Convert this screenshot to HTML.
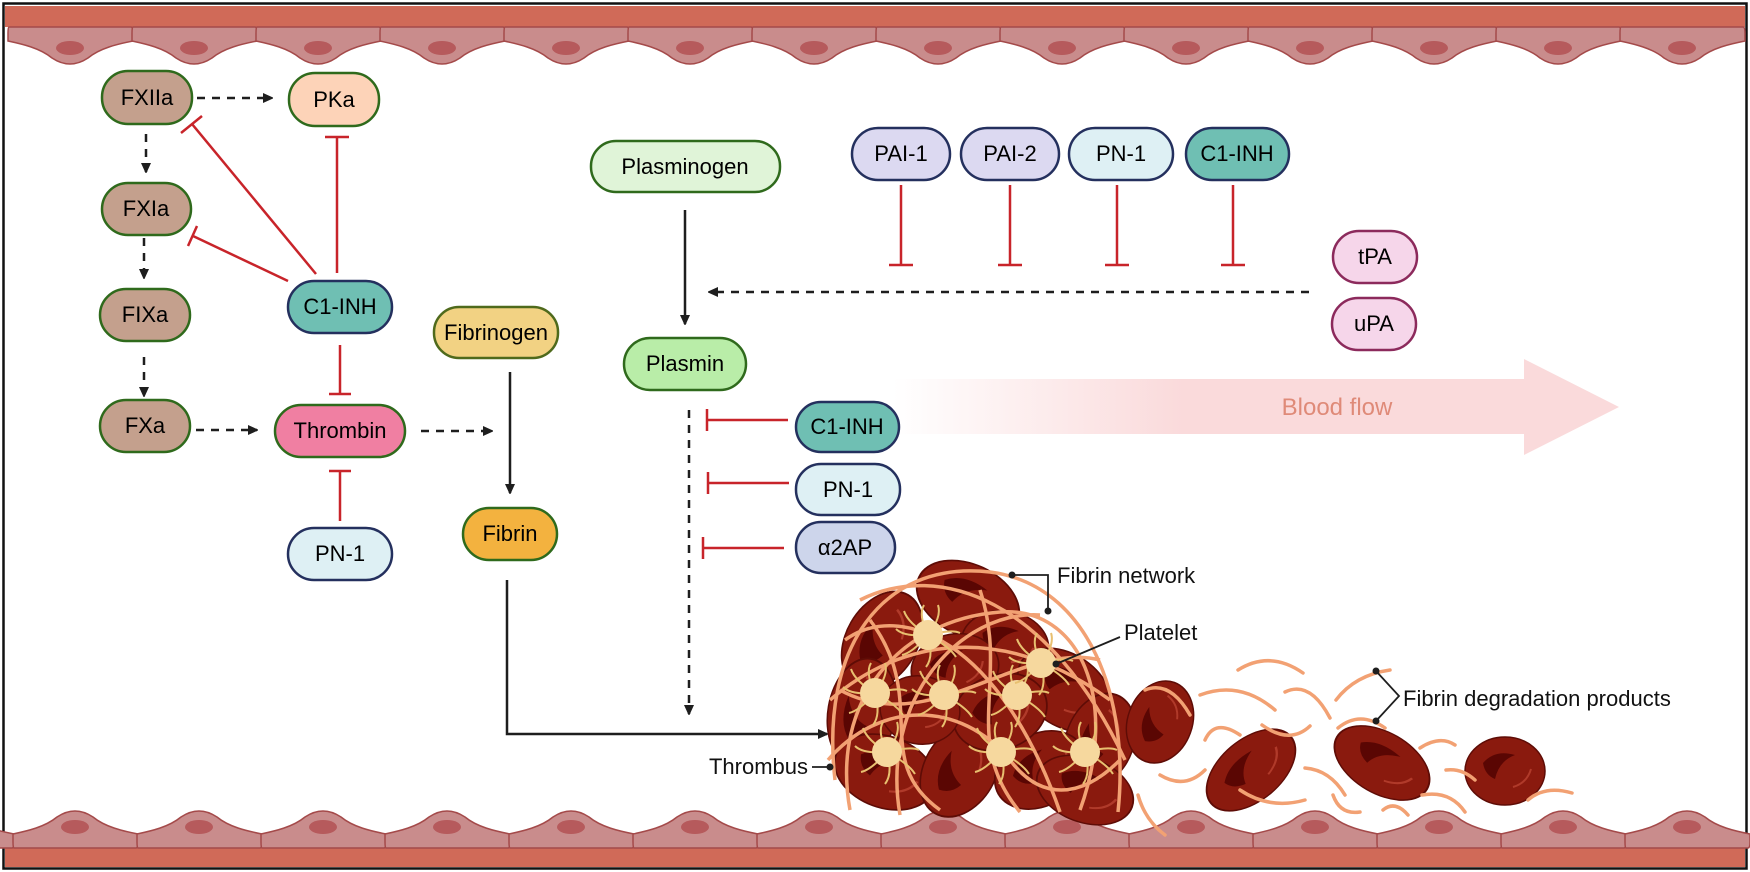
<!DOCTYPE html>
<html><head><meta charset="utf-8"><style>
html,body{margin:0;padding:0;background:#fff}
svg{display:block}
text{font-family:"Liberation Sans",sans-serif}
</style></head><body>
<svg width="1750" height="872" viewBox="0 0 1750 872" xmlns="http://www.w3.org/2000/svg">
<defs>
<linearGradient id="bf" x1="893" y1="0" x2="1618" y2="0" gradientUnits="userSpaceOnUse">
<stop offset="0" stop-color="#fadadb" stop-opacity="0"/>
<stop offset="0.4" stop-color="#fadadb" stop-opacity="1"/>
<stop offset="1" stop-color="#fadadb"/>
</linearGradient>
<g id="cell">
<path d="M1,27 L123,27 Q125,27 125,33 L125,41 C110,44 92,48 80,58 Q62,70 44,58 C32,48 14,44 0,41 L0,33 Q0,27 1,27Z" fill="#c98c8c" stroke="#a44a4a" stroke-width="1.5"/>
<ellipse cx="62" cy="48" rx="14" ry="7" fill="#b65a5c"/>
</g>
<marker id="ah" markerWidth="10" markerHeight="10" refX="9" refY="5" orient="auto" markerUnits="userSpaceOnUse"><path d="M0,0 L11,5 L0,10Z" fill="#1e1e1e"/></marker>
<g id="rbc">
<ellipse cx="0" cy="0" rx="40" ry="34" fill="#8a1a0e" stroke="#5e0c06" stroke-width="1.5"/>
<path d="M-22,-8 Q-10,-22 10,-16 Q-6,-10 -10,8 Q-20,4 -22,-8Z" fill="#5a0603"/>
<path d="M8,16 Q22,12 26,-2" fill="none" stroke="#b03a2a" stroke-width="2"/>
</g>
<g id="plt">
<g stroke="#e8c070" stroke-width="2" fill="none">
<path d="M0,0 Q-10,-20 -4,-30"/><path d="M0,0 Q14,-18 10,-30"/><path d="M0,0 Q24,-6 32,-2"/><path d="M0,0 Q22,12 28,22"/><path d="M0,0 Q6,22 -2,32"/><path d="M0,0 Q-16,18 -26,20"/><path d="M0,0 Q-24,2 -32,-6"/><path d="M0,0 Q-20,-12 -24,-24"/>
</g>
<circle r="15" fill="#f6d89e"/>
</g>
</defs>

<rect x="3.5" y="3.5" width="1743" height="865" fill="#fff" stroke="#111" stroke-width="2.5"/>
<rect x="5" y="6" width="1740" height="21" fill="#d06a58"/>
<g>
<use href="#cell" x="8"/><use href="#cell" x="132"/><use href="#cell" x="256"/><use href="#cell" x="380"/><use href="#cell" x="504"/><use href="#cell" x="628"/><use href="#cell" x="752"/><use href="#cell" x="876"/><use href="#cell" x="1000"/><use href="#cell" x="1124"/><use href="#cell" x="1248"/><use href="#cell" x="1372"/><use href="#cell" x="1496"/><use href="#cell" x="1620"/>
</g>
<rect x="5" y="848" width="1740" height="19" fill="#d06a58"/>
<g transform="translate(0,875) scale(1,-1)">
<use href="#cell" x="-111"/><use href="#cell" x="13"/><use href="#cell" x="137"/><use href="#cell" x="261"/><use href="#cell" x="385"/><use href="#cell" x="509"/><use href="#cell" x="633"/><use href="#cell" x="757"/><use href="#cell" x="881"/><use href="#cell" x="1005"/><use href="#cell" x="1129"/><use href="#cell" x="1253"/><use href="#cell" x="1377"/><use href="#cell" x="1501"/><use href="#cell" x="1625"/>
</g>

<polygon points="893,379 1524,379 1524,359 1619,407 1524,455 1524,434 893,434" fill="url(#bf)"/>
<text x="1337" y="415" font-size="24" fill="#df8a78" text-anchor="middle">Blood flow</text>

<g stroke="#1e1e1e" stroke-width="2.5" fill="none">
<g stroke-dasharray="8,7">
<line x1="197" y1="98" x2="272" y2="98" marker-end="url(#ah)"/>
<line x1="146" y1="134" x2="146" y2="172" marker-end="url(#ah)"/>
<line x1="144" y1="238" x2="144" y2="278" marker-end="url(#ah)"/>
<line x1="144" y1="357" x2="144" y2="396" marker-end="url(#ah)"/>
<line x1="196" y1="430" x2="257" y2="430" marker-end="url(#ah)"/>
<line x1="421" y1="431" x2="492" y2="431" marker-end="url(#ah)"/>
<line x1="1309" y1="292" x2="709" y2="292" marker-end="url(#ah)"/>
<line x1="689" y1="410" x2="689" y2="714" marker-end="url(#ah)"/>
</g>
<line x1="510" y1="372" x2="510" y2="493" marker-end="url(#ah)"/>
<line x1="685" y1="210" x2="685" y2="324" marker-end="url(#ah)"/>
<polyline points="507,580 507,734 827,734" marker-end="url(#ah)"/>
</g>

<g stroke="#c8242a" stroke-width="2.5" fill="none">
<line x1="316" y1="274" x2="192" y2="124"/><line x1="181" y1="133" x2="202" y2="116"/>
<line x1="288" y1="281" x2="193" y2="236"/><line x1="188" y1="246" x2="197" y2="226"/>
<line x1="337" y1="273" x2="337" y2="137"/><line x1="325" y1="137" x2="349" y2="137"/>
<line x1="340" y1="345" x2="340" y2="394"/><line x1="329" y1="394" x2="351" y2="394"/>
<line x1="340" y1="521" x2="340" y2="471"/><line x1="329" y1="471" x2="351" y2="471"/>
<line x1="901" y1="185" x2="901" y2="265"/><line x1="889" y1="265" x2="913" y2="265"/>
<line x1="1010" y1="185" x2="1010" y2="265"/><line x1="998" y1="265" x2="1022" y2="265"/>
<line x1="1117" y1="185" x2="1117" y2="265"/><line x1="1105" y1="265" x2="1129" y2="265"/>
<line x1="1233" y1="185" x2="1233" y2="265"/><line x1="1221" y1="265" x2="1245" y2="265"/>
<line x1="788" y1="420" x2="707" y2="420"/><line x1="707" y1="409" x2="707" y2="431"/>
<line x1="789" y1="483" x2="708" y2="483"/><line x1="708" y1="472" x2="708" y2="494"/>
<line x1="784" y1="548" x2="703" y2="548"/><line x1="703" y1="537" x2="703" y2="559"/>
</g>

<g stroke-width="2.5" font-size="22" text-anchor="middle">
<g><rect x="102" y="71" width="90" height="53" rx="26" fill="#c4a08d" stroke="#2f6a1c"/><text x="147" y="105" stroke="none">FXIIa</text></g>
<g><rect x="289" y="73" width="90" height="53" rx="26" fill="#fdd3b8" stroke="#2f6a1c"/><text x="334" y="107" stroke="none">PKa</text></g>
<g><rect x="102" y="183" width="89" height="52" rx="26" fill="#c4a08d" stroke="#2f6a1c"/><text x="146" y="216" stroke="none">FXIa</text></g>
<g><rect x="100" y="289" width="90" height="52" rx="26" fill="#c4a08d" stroke="#2f6a1c"/><text x="145" y="322" stroke="none">FIXa</text></g>
<g><rect x="100" y="400" width="90" height="52" rx="26" fill="#c4a08d" stroke="#2f6a1c"/><text x="145" y="433" stroke="none">FXa</text></g>
<g><rect x="288" y="281" width="104" height="52" rx="26" fill="#6fbfb3" stroke="#24305e"/><text x="340" y="314" stroke="none">C1-INH</text></g>
<g><rect x="275" y="405" width="130" height="52" rx="26" fill="#f07fa2" stroke="#2f6a1c"/><text x="340" y="438" stroke="none">Thrombin</text></g>
<g><rect x="288" y="528" width="104" height="52" rx="26" fill="#def0f4" stroke="#24305e"/><text x="340" y="561" stroke="none">PN-1</text></g>
<g><rect x="434" y="307" width="124" height="51" rx="25" fill="#f2d283" stroke="#4f6a1c"/><text x="496" y="340" stroke="none">Fibrinogen</text></g>
<g><rect x="463" y="508" width="94" height="52" rx="26" fill="#f3b23f" stroke="#2f6a1c"/><text x="510" y="541" stroke="none">Fibrin</text></g>
<g><rect x="591" y="141" width="189" height="51" rx="25" fill="#e0f4d8" stroke="#2f6a1c"/><text x="685" y="174" stroke="none">Plasminogen</text></g>
<g><rect x="624" y="338" width="122" height="52" rx="26" fill="#b9eda8" stroke="#2f6a1c"/><text x="685" y="371" stroke="none">Plasmin</text></g>
<g><rect x="852" y="128" width="98" height="52" rx="26" fill="#dcd9f1" stroke="#24305e"/><text x="901" y="161" stroke="none">PAI-1</text></g>
<g><rect x="961" y="128" width="98" height="52" rx="26" fill="#dcd9f1" stroke="#24305e"/><text x="1010" y="161" stroke="none">PAI-2</text></g>
<g><rect x="1069" y="128" width="104" height="52" rx="26" fill="#def0f4" stroke="#24305e"/><text x="1121" y="161" stroke="none">PN-1</text></g>
<g><rect x="1186" y="128" width="103" height="52" rx="26" fill="#6fbfb3" stroke="#24305e"/><text x="1237" y="161" stroke="none">C1-INH</text></g>
<g><rect x="1333" y="231" width="84" height="52" rx="26" fill="#f6d6ea" stroke="#8c2a5c"/><text x="1375" y="264" stroke="none">tPA</text></g>
<g><rect x="1332" y="298" width="84" height="52" rx="26" fill="#f6d6ea" stroke="#8c2a5c"/><text x="1374" y="331" stroke="none">uPA</text></g>
<g><rect x="796" y="402" width="103" height="50" rx="25" fill="#6fbfb3" stroke="#24305e"/><text x="847" y="434" stroke="none">C1-INH</text></g>
<g><rect x="796" y="464" width="104" height="51" rx="25" fill="#def0f4" stroke="#24305e"/><text x="848" y="497" stroke="none">PN-1</text></g>
<g><rect x="796" y="522" width="99" height="51" rx="25" fill="#cdd5eb" stroke="#24305e"/><text x="845" y="555" stroke="none">α2AP</text></g>
</g>

<g>
<use href="#rbc" transform="translate(968,600) rotate(25) scale(1.35,1.05)"/>
<use href="#rbc" transform="translate(882,640) rotate(-60) scale(1.3,1.05)"/>
<use href="#rbc" transform="translate(1005,645) rotate(10) scale(1.1,1)"/>
<use href="#rbc" transform="translate(862,712) rotate(-80) scale(1.35,1)"/>
<use href="#rbc" transform="translate(955,668) rotate(-10) scale(1.1,1)"/>
<use href="#rbc" transform="translate(1065,690) rotate(35) scale(1.3,1.05)"/>
<use href="#rbc" transform="translate(1100,740) rotate(-70) scale(1.2,1)"/>
<use href="#rbc" transform="translate(885,772) rotate(20) scale(1.3,1.05)"/>
<use href="#rbc" transform="translate(960,770) rotate(-60) scale(1.25,1.05)"/>
<use href="#rbc" transform="translate(1040,770) rotate(-30) scale(1.2,1.05)"/>
<use href="#rbc" transform="translate(1085,790) rotate(20) scale(1.25,0.95)"/>
<use href="#rbc" transform="translate(1000,712) rotate(-20) scale(1.2,1.1)"/>
<use href="#rbc" transform="translate(920,710) rotate(10) scale(1,1)"/>
</g>
<g stroke="#f2a173" stroke-width="3.5" fill="none">
<path d="M835,780 C820,650 880,560 990,572 C1090,585 1130,700 1118,812"/>
<path d="M850,810 C830,700 900,620 1000,612 C1080,606 1120,700 1080,810"/>
<path d="M830,700 C900,640 1000,620 1110,700"/>
<path d="M845,640 C900,600 1000,640 1060,812"/>
<path d="M900,815 C880,700 960,610 1040,615"/>
<path d="M860,600 C940,560 1050,600 1125,760"/>
<path d="M828,760 C880,700 960,700 1010,760 C1040,800 1080,800 1120,760"/>
<path d="M870,620 C930,700 870,760 940,810"/>
<path d="M980,590 C1010,680 960,740 1020,812"/>
<path d="M840,690 C930,740 1020,640 1100,660"/>
</g>
<g>
<use href="#plt" x="928" y="635"/><use href="#plt" x="875" y="693"/><use href="#plt" x="944" y="695"/><use href="#plt" x="1017" y="695"/><use href="#plt" x="1041" y="663"/><use href="#plt" x="887" y="752"/><use href="#plt" x="1001" y="752"/><use href="#plt" x="1085" y="752"/>
</g>
<use href="#rbc" transform="translate(1160,722) rotate(-70) scale(1.05,0.95)"/>
<use href="#rbc" transform="translate(1251,770) rotate(-40) scale(1.3,0.9)"/>
<use href="#rbc" transform="translate(1382,763) rotate(30) scale(1.3,0.9)"/>
<use href="#rbc" transform="translate(1505,771) scale(1,1)"/>
<g stroke="#f2a173" stroke-width="3.5" fill="none" stroke-linecap="round">
<path d="M1145,690 Q1170,680 1190,715"/><path d="M1138,795 Q1145,820 1165,835"/>
<path d="M1160,775 Q1185,790 1205,770"/><path d="M1200,695 Q1240,680 1275,710"/>
<path d="M1238,670 Q1270,650 1303,673"/><path d="M1285,692 Q1310,680 1330,718"/>
<path d="M1262,725 Q1290,745 1310,726"/><path d="M1205,740 Q1215,718 1240,735"/>
<path d="M1240,790 Q1270,810 1305,800"/><path d="M1305,768 Q1330,770 1345,795"/>
<path d="M1333,795 Q1340,815 1360,812"/><path d="M1336,700 Q1355,675 1390,670"/>
<path d="M1338,728 Q1360,710 1385,728"/><path d="M1420,748 Q1440,735 1455,745"/>
<path d="M1446,770 Q1462,768 1475,780"/><path d="M1422,795 Q1450,790 1465,812"/>
<path d="M1528,800 Q1545,785 1572,793"/>
<path d="M1383,810 Q1395,800 1408,815"/>
</g>

<g stroke="#1e1e1e" stroke-width="1.8" fill="none">
<polyline points="1012,575 1048,575 1048,611"/>
<line x1="1056" y1="664" x2="1120" y2="637"/>
<line x1="830" y1="767" x2="812" y2="767"/>
<polyline points="1376,671 1399,696 1376,721"/>
</g>
<g fill="#1e1e1e"><circle cx="1012" cy="575" r="3.5"/><circle cx="1048" cy="611" r="3.5"/><circle cx="1056" cy="664" r="3.5"/><circle cx="830" cy="767" r="3.5"/><circle cx="1376" cy="671" r="3.5"/><circle cx="1376" cy="721" r="3.5"/></g>
<g font-size="22" fill="#111">
<text x="1057" y="583">Fibrin network</text>
<text x="1124" y="640">Platelet</text>
<text x="1403" y="706">Fibrin degradation products</text>
<text x="808" y="774" text-anchor="end">Thrombus</text>
</g>
</svg>
</body></html>
